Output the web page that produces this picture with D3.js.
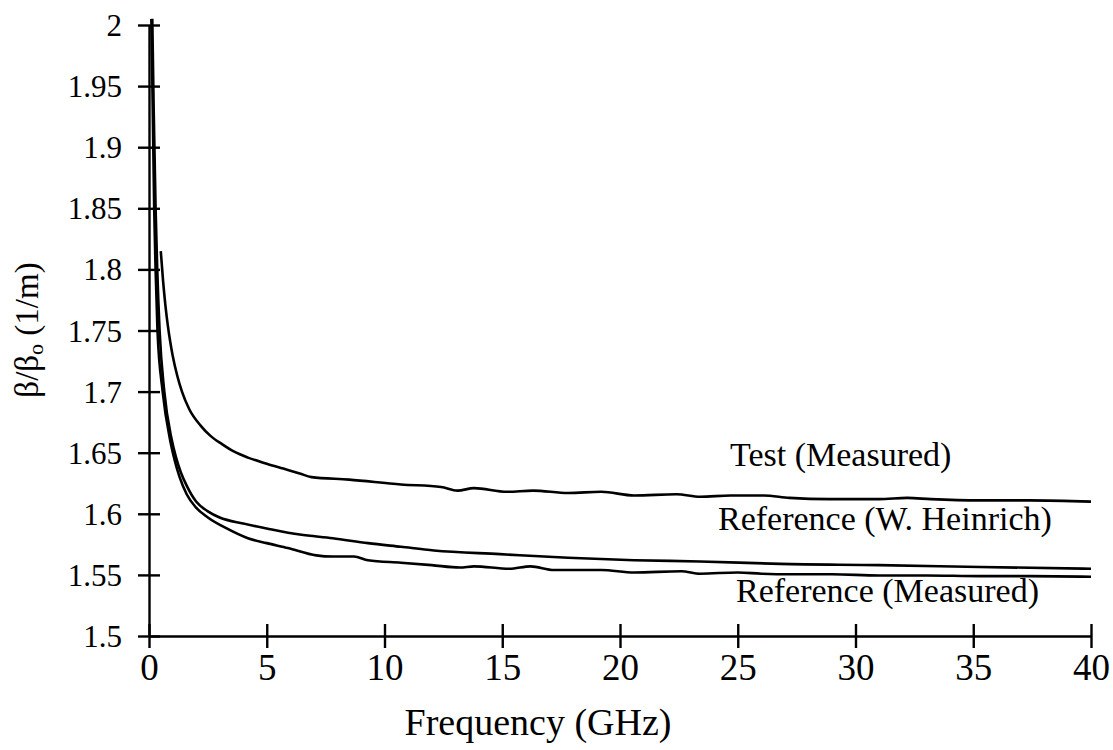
<!DOCTYPE html>
<html>
<head>
<meta charset="utf-8">
<script src="https://cdn.jsdelivr.net/npm/d3@7"></script>
<style>
  html, body { margin: 0; padding: 0; background: #fff; }
  svg { display: block; }
  text { font-family: "Liberation Serif", "Times New Roman", serif; fill: #000; }
</style>
</head>
<body>
<svg id="chart" width="1113" height="750"></svg>
<script>
// Normalised propagation constant vs frequency for three data sets.
const testFreq = [0.5, 0.6, 0.7, 0.8, 0.9, 1.0, 1.2, 1.4, 1.7, 2.2, 2.6, 3.1, 3.6, 4.2, 5.0, 5.7, 6.4, 6.9, 8.5, 10.7, 12.4, 13.1, 13.8, 15.2, 16.3, 17.8, 19.2, 20.6, 22.4, 23.4, 24.7, 26.1, 27.2, 28.9, 31.0, 32.2, 33.2, 35.3, 37.4, 40.0];
const testVals = [1.815, 1.790, 1.770, 1.754, 1.741, 1.730, 1.713, 1.700, 1.686, 1.672, 1.664, 1.657, 1.651, 1.646, 1.641, 1.637, 1.633, 1.630, 1.628, 1.624, 1.622, 1.619, 1.621, 1.618, 1.619, 1.617, 1.618, 1.615, 1.616, 1.614, 1.615, 1.615, 1.613, 1.612, 1.612, 1.613, 1.612, 1.611, 1.611, 1.610];

const heinrichFreq = [0.14, 0.2, 0.28, 0.35, 0.45, 0.65, 0.95, 1.15, 1.35, 1.6, 2.0, 2.5, 3.0, 4.0, 5.0, 6.4, 7.8, 9.3, 10.7, 12.1, 14.9, 17.8, 20.6, 23.4, 26.8, 31.0, 35.3, 40.0];
const heinrichVals = [2.005, 1.93, 1.85, 1.80, 1.75, 1.70, 1.662, 1.646, 1.634, 1.623, 1.610, 1.602, 1.597, 1.592, 1.588, 1.583, 1.580, 1.576, 1.573, 1.570, 1.567, 1.564, 1.562, 1.561, 1.559, 1.558, 1.5565, 1.555];

const refMeasFreq = [0.1, 0.16, 0.22, 0.28, 0.36, 0.58, 0.9, 1.1, 1.3, 1.6, 2.0, 2.5, 3.3, 4.2, 5.0, 5.9, 7.1, 7.8, 8.7, 9.3, 10.7, 12.0, 13.2, 13.8, 15.3, 16.2, 17.2, 19.2, 20.6, 22.6, 23.4, 25.0, 26.0, 27.2, 29.0, 31.0, 33.0, 35.3, 37.4, 40.0];
const refMeasVals = [2.005, 1.93, 1.85, 1.80, 1.75, 1.70, 1.660, 1.643, 1.630, 1.616, 1.605, 1.597, 1.588, 1.580, 1.576, 1.572, 1.566, 1.565, 1.565, 1.562, 1.560, 1.558, 1.556, 1.557, 1.555, 1.557, 1.554, 1.554, 1.552, 1.553, 1.551, 1.552, 1.551, 1.5505, 1.5505, 1.5495, 1.5495, 1.549, 1.549, 1.5485];

const xTicks = [0, 5, 10, 15, 20, 25, 30, 35, 40];
const yTicks = [1.5, 1.55, 1.6, 1.65, 1.7, 1.75, 1.8, 1.85, 1.9, 1.95, 2];

const seriesLabels = ["Test (Measured)", "Reference (W. Heinrich)", "Reference (Measured)"];

const svg = d3.select("#chart");
const plotLeft = 149, plotRight = 1091, plotTop = 25, plotBottom = 636;

const x = d3.scaleLinear().domain([0, 40]).range([plotLeft, plotRight]);
const y = d3.scaleLinear().domain([1.5, 2]).range([plotBottom, plotTop]);

// Y axis with ticks crossing the axis line
const yAxis = svg.append("g")
  .attr("transform", `translate(${plotLeft},0)`)
  .call(d3.axisLeft(y).tickValues(yTicks).tickFormat(d3.format("")).tickSize(22).tickSizeOuter(0).tickPadding(5));
yAxis.selectAll(".tick line").attr("x1", 11).attr("x2", -11);
yAxis.selectAll(".tick text").style("font-size", "31px").attr("dy", "0.34em");

// X axis with ticks crossing the axis line
const xAxis = svg.append("g")
  .attr("transform", `translate(0,${plotBottom})`)
  .call(d3.axisBottom(x).tickValues(xTicks).tickFormat(d3.format("d")).tickSize(24).tickSizeOuter(0).tickPadding(-6));
xAxis.selectAll(".tick line").attr("y1", -12).attr("y2", 12);
xAxis.selectAll(".tick text").style("font-size", "37px");

svg.selectAll(".domain, .tick line").attr("stroke", "#000").attr("stroke-width", 2.4);

// Axis titles
svg.append("text")
  .attr("x", 538).attr("y", 735)
  .attr("text-anchor", "middle")
  .style("font-size", "38px")
  .text("Frequency (GHz)");

const yTitle = svg.append("text")
  .attr("transform", "translate(38,330) rotate(-90)")
  .attr("text-anchor", "middle")
  .style("font-size", "33px");
yTitle.append("tspan").text("β/β");
yTitle.append("tspan").attr("dy", 5).style("font-size", "22px").text("o");
yTitle.append("tspan").attr("dy", -5).text(" (1/m)");

// Curves
const line = d3.line()
  .x(d => x(d[0]))
  .y(d => y(d[1]))
  .curve(d3.curveMonotoneX);

const series = [
  d3.zip(testFreq, testVals),
  d3.zip(heinrichFreq, heinrichVals),
  d3.zip(refMeasFreq, refMeasVals)
];

svg.append("g").selectAll("path")
  .data(series)
  .join("path")
  .attr("d", line)
  .attr("fill", "none")
  .attr("stroke", "#000")
  .attr("stroke-width", 2.6)
  .attr("stroke-linejoin", "round");

// In-plot series labels
const labelPos = [[730, 466], [718, 530], [736, 602]];
svg.append("g").selectAll("text")
  .data(seriesLabels)
  .join("text")
  .attr("x", (d, i) => labelPos[i][0])
  .attr("y", (d, i) => labelPos[i][1])
  .style("font-size", "34px")
  .text(d => d);
</script>
</body>
</html>
